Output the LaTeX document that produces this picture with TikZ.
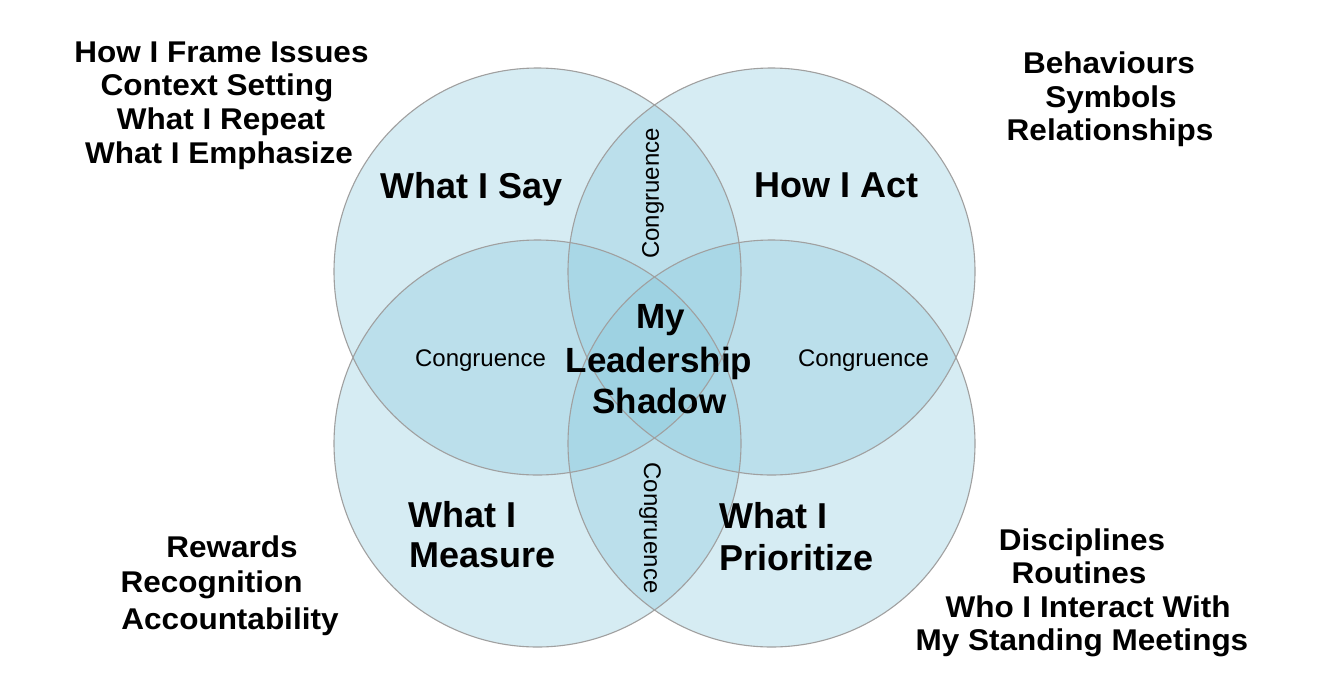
\documentclass[tikz,border=0pt]{standalone}
\usepackage{fontspec}
\setmainfont{Liberation Sans}
\newfontfamily\sidefont[FakeStretch=1.05]{Liberation Sans}
\definecolor{circfill}{RGB}{138,201,221}
\definecolor{circline}{RGB}{160,160,160}
\begin{document}
\begin{tikzpicture}[x=1pt,y=-1pt,
  side/.style={font=\sidefont\fontsize{30}{34}\selectfont\bfseries, anchor=base, inner sep=0pt},
  lab/.style={font=\fontsize{36}{42}\selectfont\bfseries, inner sep=0pt},
  mid/.style={font=\fontsize{35}{42}\selectfont\bfseries, anchor=base, inner sep=0pt},
  cong/.style={font=\fontsize{24}{27}\selectfont, inner sep=0pt},
  disk/.style={fill=circfill, fill opacity=0.35},
  rim/.style={draw=circline, line width=1.1pt}]
\useasboundingbox (0,0) rectangle (1326,694);
\fill[white] (0,0) rectangle (1326,694);
\coordinate (cTL) at (537.5,271.5);
\coordinate (cTR) at (771.5,271.5);
\coordinate (cBL) at (537.5,443.5);
\coordinate (cBR) at (771.5,443.5);
\foreach \c in {cTL,cTR,cBL,cBR} \fill[disk] (\c) circle[radius=203.5pt];
\foreach \c in {cTL,cTR,cBL,cBR} \draw[rim] (\c) circle[radius=203.5pt];
% circle labels
\node[lab, anchor=base] (say) at (471.5,198) {What I Say};
\node[lab, anchor=base] (act) at (836.5,197) {How I Act};
\node[lab, anchor=base west] (meas1) at (408,527) {What I};
\node[lab, anchor=base west] (meas2) at (409,567) {Measure};
\node[lab, anchor=base west] (prio1) at (719,528) {What I};
\node[lab, anchor=base west] (prio2) at (719,570) {Prioritize};
% centre
\node[mid] (my) at (661,328) {My};
\node[mid] (lead) at (659,372) {Leadership};
\node[mid] (shadow) at (659.5,413.5) {Shadow};
% congruence
\node[cong, anchor=base] (congL) at (480.5,366) {Congruence};
\node[cong, anchor=base] (congR) at (863.5,366) {Congruence};
\node[cong, rotate=90] (congT) at (653,193.5) {Congruence};
\node[cong, rotate=-90] (congB) at (650,528) {Congruence};
% side texts
\node[side] (tl1) at (221.5,62.5) {How I Frame Issues};
\node[side] (tl2) at (217,95.5) {Context Setting};
\node[side] (tl3) at (221,129.5) {What I Repeat};
\node[side] (tl4) at (219,163) {What I Emphasize};
\node[side] (tr1) at (1109,73) {Behaviours};
\node[side] (tr2) at (1111,107) {Symbols};
\node[side] (tr3) at (1110,140) {Relationships};
\node[side] (bl1) at (232,557) {Rewards};
\node[side] (bl2) at (211.5,592) {Recognition};
\node[side] (bl3) at (230,629) {Accountability};
\node[side] (br1) at (1082,550) {Disciplines};
\node[side] (br2) at (1079,583) {Routines};
\node[side] (br3) at (1088,617) {Who I Interact With};
\node[side] (br4) at (1082,650) {My Standing Meetings};
\end{tikzpicture}
\end{document}
